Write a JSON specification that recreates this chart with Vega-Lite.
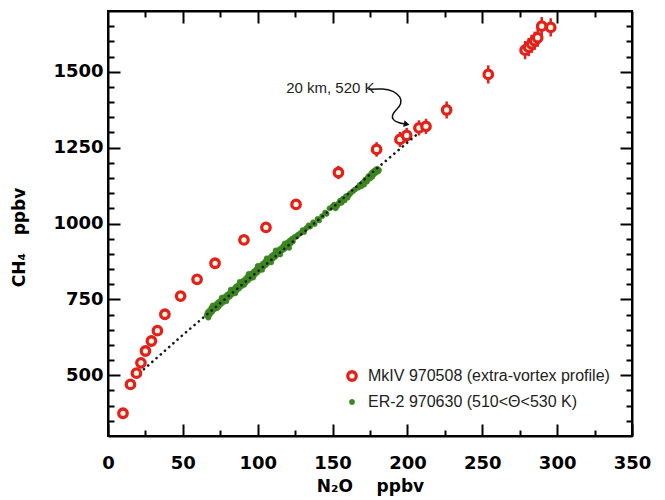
{
  "$schema": "https://vega.github.io/schema/vega-lite/v6.json",
  "width": 524,
  "height": 425,
  "autosize": "none",
  "padding": {"left": 108, "top": 11, "right": 33, "bottom": 64},
  "background": "white",
  "config": {
    "view": {"stroke": "black", "strokeWidth": 2},
    "axis": {"grid": false, "domain": true, "domainColor": "black", "domainWidth": 2, "tickColor": "black", "tickWidth": 2, "labelColor": "black", "titleColor": "black"},
    "legend": {
      "orient": "none",
      "legendX": 236,
      "legendY": 357,
      "labelFont": "Liberation Sans",
      "labelFontSize": 16,
      "labelColor": "#222",
      "labelLimit": 0,
      "labelOffset": 8,
      "rowPadding": 7,
      "padding": 0
    }
  },
  "datasets": {
    "obs": [
      {"instrument": "ER-2 970630 (510<Θ<530 K)", "n2o": 66, "ch4": 698},
      {"instrument": "ER-2 970630 (510<Θ<530 K)", "n2o": 66.5, "ch4": 706},
      {"instrument": "ER-2 970630 (510<Θ<530 K)", "n2o": 67, "ch4": 690},
      {"instrument": "ER-2 970630 (510<Θ<530 K)", "n2o": 67.5, "ch4": 712},
      {"instrument": "ER-2 970630 (510<Θ<530 K)", "n2o": 68, "ch4": 700},
      {"instrument": "ER-2 970630 (510<Θ<530 K)", "n2o": 69, "ch4": 722},
      {"instrument": "ER-2 970630 (510<Θ<530 K)", "n2o": 69.5, "ch4": 709},
      {"instrument": "ER-2 970630 (510<Θ<530 K)", "n2o": 70, "ch4": 730},
      {"instrument": "ER-2 970630 (510<Θ<530 K)", "n2o": 70.5, "ch4": 716},
      {"instrument": "ER-2 970630 (510<Θ<530 K)", "n2o": 71, "ch4": 728},
      {"instrument": "ER-2 970630 (510<Θ<530 K)", "n2o": 72, "ch4": 720},
      {"instrument": "ER-2 970630 (510<Θ<530 K)", "n2o": 72.5, "ch4": 734},
      {"instrument": "ER-2 970630 (510<Θ<530 K)", "n2o": 73, "ch4": 722},
      {"instrument": "ER-2 970630 (510<Θ<530 K)", "n2o": 73.5, "ch4": 740},
      {"instrument": "ER-2 970630 (510<Θ<530 K)", "n2o": 74, "ch4": 727},
      {"instrument": "ER-2 970630 (510<Θ<530 K)", "n2o": 75, "ch4": 745},
      {"instrument": "ER-2 970630 (510<Θ<530 K)", "n2o": 75.5, "ch4": 735},
      {"instrument": "ER-2 970630 (510<Θ<530 K)", "n2o": 76, "ch4": 756},
      {"instrument": "ER-2 970630 (510<Θ<530 K)", "n2o": 76.5, "ch4": 752},
      {"instrument": "ER-2 970630 (510<Θ<530 K)", "n2o": 77, "ch4": 741},
      {"instrument": "ER-2 970630 (510<Θ<530 K)", "n2o": 78, "ch4": 758},
      {"instrument": "ER-2 970630 (510<Θ<530 K)", "n2o": 78.5, "ch4": 747},
      {"instrument": "ER-2 970630 (510<Θ<530 K)", "n2o": 79, "ch4": 744},
      {"instrument": "ER-2 970630 (510<Θ<530 K)", "n2o": 79.5, "ch4": 765},
      {"instrument": "ER-2 970630 (510<Θ<530 K)", "n2o": 80, "ch4": 755},
      {"instrument": "ER-2 970630 (510<Θ<530 K)", "n2o": 81, "ch4": 770},
      {"instrument": "ER-2 970630 (510<Θ<530 K)", "n2o": 81.5, "ch4": 760},
      {"instrument": "ER-2 970630 (510<Θ<530 K)", "n2o": 82, "ch4": 782},
      {"instrument": "ER-2 970630 (510<Θ<530 K)", "n2o": 82.5, "ch4": 778},
      {"instrument": "ER-2 970630 (510<Θ<530 K)", "n2o": 83, "ch4": 768},
      {"instrument": "ER-2 970630 (510<Θ<530 K)", "n2o": 84, "ch4": 784},
      {"instrument": "ER-2 970630 (510<Θ<530 K)", "n2o": 84.5, "ch4": 774},
      {"instrument": "ER-2 970630 (510<Θ<530 K)", "n2o": 85, "ch4": 770},
      {"instrument": "ER-2 970630 (510<Θ<530 K)", "n2o": 85.5, "ch4": 792},
      {"instrument": "ER-2 970630 (510<Θ<530 K)", "n2o": 86, "ch4": 780},
      {"instrument": "ER-2 970630 (510<Θ<530 K)", "n2o": 87, "ch4": 797},
      {"instrument": "ER-2 970630 (510<Θ<530 K)", "n2o": 87.5, "ch4": 786},
      {"instrument": "ER-2 970630 (510<Θ<530 K)", "n2o": 88, "ch4": 808},
      {"instrument": "ER-2 970630 (510<Θ<530 K)", "n2o": 88.5, "ch4": 805},
      {"instrument": "ER-2 970630 (510<Θ<530 K)", "n2o": 89, "ch4": 793},
      {"instrument": "ER-2 970630 (510<Θ<530 K)", "n2o": 90, "ch4": 810},
      {"instrument": "ER-2 970630 (510<Θ<530 K)", "n2o": 90.5, "ch4": 799},
      {"instrument": "ER-2 970630 (510<Θ<530 K)", "n2o": 91, "ch4": 798},
      {"instrument": "ER-2 970630 (510<Θ<530 K)", "n2o": 91.5, "ch4": 816},
      {"instrument": "ER-2 970630 (510<Θ<530 K)", "n2o": 92, "ch4": 806},
      {"instrument": "ER-2 970630 (510<Θ<530 K)", "n2o": 93, "ch4": 824},
      {"instrument": "ER-2 970630 (510<Θ<530 K)", "n2o": 93.5, "ch4": 812},
      {"instrument": "ER-2 970630 (510<Θ<530 K)", "n2o": 94, "ch4": 834},
      {"instrument": "ER-2 970630 (510<Θ<530 K)", "n2o": 94.5, "ch4": 829},
      {"instrument": "ER-2 970630 (510<Θ<530 K)", "n2o": 95, "ch4": 819},
      {"instrument": "ER-2 970630 (510<Θ<530 K)", "n2o": 96, "ch4": 836},
      {"instrument": "ER-2 970630 (510<Θ<530 K)", "n2o": 96.5, "ch4": 825},
      {"instrument": "ER-2 970630 (510<Θ<530 K)", "n2o": 97, "ch4": 822},
      {"instrument": "ER-2 970630 (510<Θ<530 K)", "n2o": 97.5, "ch4": 842},
      {"instrument": "ER-2 970630 (510<Θ<530 K)", "n2o": 98, "ch4": 832},
      {"instrument": "ER-2 970630 (510<Θ<530 K)", "n2o": 99, "ch4": 849},
      {"instrument": "ER-2 970630 (510<Θ<530 K)", "n2o": 99.5, "ch4": 838},
      {"instrument": "ER-2 970630 (510<Θ<530 K)", "n2o": 100, "ch4": 860},
      {"instrument": "ER-2 970630 (510<Θ<530 K)", "n2o": 100.5, "ch4": 856},
      {"instrument": "ER-2 970630 (510<Θ<530 K)", "n2o": 101, "ch4": 845},
      {"instrument": "ER-2 970630 (510<Θ<530 K)", "n2o": 102, "ch4": 862},
      {"instrument": "ER-2 970630 (510<Θ<530 K)", "n2o": 102.5, "ch4": 851},
      {"instrument": "ER-2 970630 (510<Θ<530 K)", "n2o": 103, "ch4": 848},
      {"instrument": "ER-2 970630 (510<Θ<530 K)", "n2o": 103.5, "ch4": 868},
      {"instrument": "ER-2 970630 (510<Θ<530 K)", "n2o": 104, "ch4": 858},
      {"instrument": "ER-2 970630 (510<Θ<530 K)", "n2o": 105, "ch4": 874},
      {"instrument": "ER-2 970630 (510<Θ<530 K)", "n2o": 105.5, "ch4": 864},
      {"instrument": "ER-2 970630 (510<Θ<530 K)", "n2o": 106, "ch4": 885},
      {"instrument": "ER-2 970630 (510<Θ<530 K)", "n2o": 106.5, "ch4": 881},
      {"instrument": "ER-2 970630 (510<Θ<530 K)", "n2o": 107, "ch4": 871},
      {"instrument": "ER-2 970630 (510<Θ<530 K)", "n2o": 108, "ch4": 887},
      {"instrument": "ER-2 970630 (510<Θ<530 K)", "n2o": 108.5, "ch4": 877},
      {"instrument": "ER-2 970630 (510<Θ<530 K)", "n2o": 109, "ch4": 872},
      {"instrument": "ER-2 970630 (510<Θ<530 K)", "n2o": 109.5, "ch4": 894},
      {"instrument": "ER-2 970630 (510<Θ<530 K)", "n2o": 110, "ch4": 884},
      {"instrument": "ER-2 970630 (510<Θ<530 K)", "n2o": 111, "ch4": 899},
      {"instrument": "ER-2 970630 (510<Θ<530 K)", "n2o": 111.5, "ch4": 890},
      {"instrument": "ER-2 970630 (510<Θ<530 K)", "n2o": 112, "ch4": 911},
      {"instrument": "ER-2 970630 (510<Θ<530 K)", "n2o": 112.5, "ch4": 906},
      {"instrument": "ER-2 970630 (510<Θ<530 K)", "n2o": 113, "ch4": 897},
      {"instrument": "ER-2 970630 (510<Θ<530 K)", "n2o": 114, "ch4": 913},
      {"instrument": "ER-2 970630 (510<Θ<530 K)", "n2o": 114.5, "ch4": 903},
      {"instrument": "ER-2 970630 (510<Θ<530 K)", "n2o": 115, "ch4": 898},
      {"instrument": "ER-2 970630 (510<Θ<530 K)", "n2o": 115.5, "ch4": 918},
      {"instrument": "ER-2 970630 (510<Θ<530 K)", "n2o": 116, "ch4": 910},
      {"instrument": "ER-2 970630 (510<Θ<530 K)", "n2o": 117, "ch4": 925},
      {"instrument": "ER-2 970630 (510<Θ<530 K)", "n2o": 117.5, "ch4": 915},
      {"instrument": "ER-2 970630 (510<Θ<530 K)", "n2o": 118, "ch4": 934},
      {"instrument": "ER-2 970630 (510<Θ<530 K)", "n2o": 118.5, "ch4": 931},
      {"instrument": "ER-2 970630 (510<Θ<530 K)", "n2o": 119, "ch4": 921},
      {"instrument": "ER-2 970630 (510<Θ<530 K)", "n2o": 120, "ch4": 938},
      {"instrument": "ER-2 970630 (510<Θ<530 K)", "n2o": 120.5, "ch4": 928},
      {"instrument": "ER-2 970630 (510<Θ<530 K)", "n2o": 121, "ch4": 920},
      {"instrument": "ER-2 970630 (510<Θ<530 K)", "n2o": 121.5, "ch4": 944},
      {"instrument": "ER-2 970630 (510<Θ<530 K)", "n2o": 122, "ch4": 935},
      {"instrument": "ER-2 970630 (510<Θ<530 K)", "n2o": 123, "ch4": 950},
      {"instrument": "ER-2 970630 (510<Θ<530 K)", "n2o": 123.5, "ch4": 941},
      {"instrument": "ER-2 970630 (510<Θ<530 K)", "n2o": 124.5, "ch4": 955},
      {"instrument": "ER-2 970630 (510<Θ<530 K)", "n2o": 126, "ch4": 958},
      {"instrument": "ER-2 970630 (510<Θ<530 K)", "n2o": 127, "ch4": 963},
      {"instrument": "ER-2 970630 (510<Θ<530 K)", "n2o": 128.5, "ch4": 968},
      {"instrument": "ER-2 970630 (510<Θ<530 K)", "n2o": 130, "ch4": 978},
      {"instrument": "ER-2 970630 (510<Θ<530 K)", "n2o": 131, "ch4": 972},
      {"instrument": "ER-2 970630 (510<Θ<530 K)", "n2o": 132.5, "ch4": 985},
      {"instrument": "ER-2 970630 (510<Θ<530 K)", "n2o": 134, "ch4": 994},
      {"instrument": "ER-2 970630 (510<Θ<530 K)", "n2o": 135, "ch4": 990},
      {"instrument": "ER-2 970630 (510<Θ<530 K)", "n2o": 137, "ch4": 1004},
      {"instrument": "ER-2 970630 (510<Θ<530 K)", "n2o": 138, "ch4": 998},
      {"instrument": "ER-2 970630 (510<Θ<530 K)", "n2o": 140, "ch4": 1015},
      {"instrument": "ER-2 970630 (510<Θ<530 K)", "n2o": 141, "ch4": 1010},
      {"instrument": "ER-2 970630 (510<Θ<530 K)", "n2o": 143, "ch4": 1024},
      {"instrument": "ER-2 970630 (510<Θ<530 K)", "n2o": 145, "ch4": 1036},
      {"instrument": "ER-2 970630 (510<Θ<530 K)", "n2o": 146, "ch4": 1032},
      {"instrument": "ER-2 970630 (510<Θ<530 K)", "n2o": 148, "ch4": 1050},
      {"instrument": "ER-2 970630 (510<Θ<530 K)", "n2o": 150, "ch4": 1056},
      {"instrument": "ER-2 970630 (510<Θ<530 K)", "n2o": 151, "ch4": 1062},
      {"instrument": "ER-2 970630 (510<Θ<530 K)", "n2o": 152, "ch4": 1050},
      {"instrument": "ER-2 970630 (510<Θ<530 K)", "n2o": 153, "ch4": 1058},
      {"instrument": "ER-2 970630 (510<Θ<530 K)", "n2o": 154, "ch4": 1066},
      {"instrument": "ER-2 970630 (510<Θ<530 K)", "n2o": 155, "ch4": 1075},
      {"instrument": "ER-2 970630 (510<Θ<530 K)", "n2o": 156, "ch4": 1068},
      {"instrument": "ER-2 970630 (510<Θ<530 K)", "n2o": 157, "ch4": 1082},
      {"instrument": "ER-2 970630 (510<Θ<530 K)", "n2o": 158, "ch4": 1076},
      {"instrument": "ER-2 970630 (510<Θ<530 K)", "n2o": 159, "ch4": 1090},
      {"instrument": "ER-2 970630 (510<Θ<530 K)", "n2o": 160, "ch4": 1085},
      {"instrument": "ER-2 970630 (510<Θ<530 K)", "n2o": 161, "ch4": 1094},
      {"instrument": "ER-2 970630 (510<Θ<530 K)", "n2o": 162, "ch4": 1100},
      {"instrument": "ER-2 970630 (510<Θ<530 K)", "n2o": 163.5, "ch4": 1106},
      {"instrument": "ER-2 970630 (510<Θ<530 K)", "n2o": 165, "ch4": 1112},
      {"instrument": "ER-2 970630 (510<Θ<530 K)", "n2o": 167, "ch4": 1118},
      {"instrument": "ER-2 970630 (510<Θ<530 K)", "n2o": 168, "ch4": 1126},
      {"instrument": "ER-2 970630 (510<Θ<530 K)", "n2o": 169, "ch4": 1122},
      {"instrument": "ER-2 970630 (510<Θ<530 K)", "n2o": 170, "ch4": 1134},
      {"instrument": "ER-2 970630 (510<Θ<530 K)", "n2o": 171, "ch4": 1128},
      {"instrument": "ER-2 970630 (510<Θ<530 K)", "n2o": 171.5, "ch4": 1140},
      {"instrument": "ER-2 970630 (510<Θ<530 K)", "n2o": 172, "ch4": 1145},
      {"instrument": "ER-2 970630 (510<Θ<530 K)", "n2o": 173, "ch4": 1138},
      {"instrument": "ER-2 970630 (510<Θ<530 K)", "n2o": 173.5, "ch4": 1150},
      {"instrument": "ER-2 970630 (510<Θ<530 K)", "n2o": 174, "ch4": 1156},
      {"instrument": "ER-2 970630 (510<Θ<530 K)", "n2o": 175, "ch4": 1148},
      {"instrument": "ER-2 970630 (510<Θ<530 K)", "n2o": 175.5, "ch4": 1160},
      {"instrument": "ER-2 970630 (510<Θ<530 K)", "n2o": 176, "ch4": 1166},
      {"instrument": "ER-2 970630 (510<Θ<530 K)", "n2o": 176.5, "ch4": 1154},
      {"instrument": "ER-2 970630 (510<Θ<530 K)", "n2o": 177, "ch4": 1170},
      {"instrument": "ER-2 970630 (510<Θ<530 K)", "n2o": 177.5, "ch4": 1162},
      {"instrument": "ER-2 970630 (510<Θ<530 K)", "n2o": 178, "ch4": 1174},
      {"instrument": "ER-2 970630 (510<Θ<530 K)", "n2o": 178.5, "ch4": 1166},
      {"instrument": "ER-2 970630 (510<Θ<530 K)", "n2o": 179, "ch4": 1178},
      {"instrument": "ER-2 970630 (510<Θ<530 K)", "n2o": 179.5, "ch4": 1170},
      {"instrument": "ER-2 970630 (510<Θ<530 K)", "n2o": 180, "ch4": 1180},
      {"instrument": "ER-2 970630 (510<Θ<530 K)", "n2o": 180.5, "ch4": 1172},
      {"instrument": "ER-2 970630 (510<Θ<530 K)", "n2o": 181, "ch4": 1176},
      {"instrument": "MkIV 970508 (extra-vortex profile)", "n2o": 10, "ch4": 375, "err": 10},
      {"instrument": "MkIV 970508 (extra-vortex profile)", "n2o": 15, "ch4": 470, "err": 10},
      {"instrument": "MkIV 970508 (extra-vortex profile)", "n2o": 19, "ch4": 507, "err": 10},
      {"instrument": "MkIV 970508 (extra-vortex profile)", "n2o": 22, "ch4": 541, "err": 10},
      {"instrument": "MkIV 970508 (extra-vortex profile)", "n2o": 25, "ch4": 580, "err": 10},
      {"instrument": "MkIV 970508 (extra-vortex profile)", "n2o": 29, "ch4": 613, "err": 10},
      {"instrument": "MkIV 970508 (extra-vortex profile)", "n2o": 33, "ch4": 647, "err": 10},
      {"instrument": "MkIV 970508 (extra-vortex profile)", "n2o": 38, "ch4": 701, "err": 10},
      {"instrument": "MkIV 970508 (extra-vortex profile)", "n2o": 48.5, "ch4": 761, "err": 10},
      {"instrument": "MkIV 970508 (extra-vortex profile)", "n2o": 59.5, "ch4": 816, "err": 10},
      {"instrument": "MkIV 970508 (extra-vortex profile)", "n2o": 71.5, "ch4": 869, "err": 12},
      {"instrument": "MkIV 970508 (extra-vortex profile)", "n2o": 90.8, "ch4": 946, "err": 14},
      {"instrument": "MkIV 970508 (extra-vortex profile)", "n2o": 105.5, "ch4": 987, "err": 15},
      {"instrument": "MkIV 970508 (extra-vortex profile)", "n2o": 125.6, "ch4": 1063, "err": 18},
      {"instrument": "MkIV 970508 (extra-vortex profile)", "n2o": 153.9, "ch4": 1168, "err": 22},
      {"instrument": "MkIV 970508 (extra-vortex profile)", "n2o": 179.4, "ch4": 1244, "err": 24},
      {"instrument": "MkIV 970508 (extra-vortex profile)", "n2o": 195, "ch4": 1277, "err": 25},
      {"instrument": "MkIV 970508 (extra-vortex profile)", "n2o": 199.5, "ch4": 1290, "err": 25},
      {"instrument": "MkIV 970508 (extra-vortex profile)", "n2o": 207.7, "ch4": 1315, "err": 25},
      {"instrument": "MkIV 970508 (extra-vortex profile)", "n2o": 212.4, "ch4": 1320, "err": 25},
      {"instrument": "MkIV 970508 (extra-vortex profile)", "n2o": 226.2, "ch4": 1374, "err": 28},
      {"instrument": "MkIV 970508 (extra-vortex profile)", "n2o": 254, "ch4": 1491, "err": 30},
      {"instrument": "MkIV 970508 (extra-vortex profile)", "n2o": 278.6, "ch4": 1571, "err": 30},
      {"instrument": "MkIV 970508 (extra-vortex profile)", "n2o": 281, "ch4": 1581, "err": 30},
      {"instrument": "MkIV 970508 (extra-vortex profile)", "n2o": 283, "ch4": 1592, "err": 30},
      {"instrument": "MkIV 970508 (extra-vortex profile)", "n2o": 285, "ch4": 1602, "err": 30},
      {"instrument": "MkIV 970508 (extra-vortex profile)", "n2o": 287, "ch4": 1612, "err": 30},
      {"instrument": "MkIV 970508 (extra-vortex profile)", "n2o": 289.7, "ch4": 1650, "err": 30},
      {"instrument": "MkIV 970508 (extra-vortex profile)", "n2o": 295.7, "ch4": 1646, "err": 30}
    ],
    "fit": [
      {"n2o": 24, "ch4": 520},
      {"n2o": 50, "ch4": 633},
      {"n2o": 115, "ch4": 905},
      {"n2o": 150, "ch4": 1052},
      {"n2o": 180, "ch4": 1183},
      {"n2o": 206, "ch4": 1292}
    ],
    "arrow": [
      {"i": 0, "n2o": 173.9, "ch4": 1442},
      {"i": 1, "n2o": 183.9, "ch4": 1445},
      {"i": 2, "n2o": 190.6, "ch4": 1437},
      {"i": 3, "n2o": 195.5, "ch4": 1418},
      {"i": 4, "n2o": 196.2, "ch4": 1394},
      {"i": 5, "n2o": 192.4, "ch4": 1374},
      {"i": 6, "n2o": 189.5, "ch4": 1357},
      {"i": 7, "n2o": 190.2, "ch4": 1341},
      {"i": 8, "n2o": 193.9, "ch4": 1332},
      {"i": 9, "n2o": 198.5, "ch4": 1328}
    ],
    "tip": [{"n2o": 199.5, "ch4": 1327}],
    "note": [{"n2o": 119, "ch4": 1446, "label": "20 km, 520 K"}]
  },
  "layer": [
    {
      "data": {"name": "obs"},
      "transform": [{"filter": "datum.err > 0"}],
      "mark": {"type": "errorbar", "color": "#e3201b", "thickness": 2.5},
      "encoding": {
        "x": {"field": "n2o", "type": "quantitative", "axis": null},
        "y": {"field": "ch4", "type": "quantitative", "axis": null},
        "yError": {"field": "err"}
      }
    },
    {
      "data": {"name": "obs"},
      "mark": {"type": "point", "filled": true, "opacity": 1},
      "encoding": {
        "x": {
          "field": "n2o", "type": "quantitative",
          "scale": {"domain": [0, 350], "nice": false, "zero": false},
          "axis": {
            "orient": "bottom",
            "values": [0, 25, 50, 75, 100, 125, 150, 175, 200, 225, 250, 275, 300, 325, 350],
            "format": "d",
            "labelExpr": "datum.value % 50 === 0 ? datum.label : ''",
            "labelOverlap": false,
            "tickSize": -12,
            "tickDash": {"condition": {"test": "datum.value % 50 !== 0", "value": [6, 30]}, "value": [20, 0]},
            "labelPadding": 30,
            "labelFont": "DejaVu Sans", "labelFontWeight": "bold", "labelFontSize": 18,
            "labelFlush": false,
            "title": "N₂O\u00a0\u00a0\u00a0\u00a0ppbv",
            "titleFont": "DejaVu Sans", "titleFontWeight": "bold", "titleFontSize": 17,
            "titlePadding": 6
          }
        },
        "y": {
          "field": "ch4", "type": "quantitative",
          "scale": {"domain": [300, 1700], "nice": false, "zero": false},
          "axis": {
            "orient": "left",
            "values": [350, 400, 450, 500, 550, 600, 650, 700, 750, 800, 850, 900, 950, 1000, 1050, 1100, 1150, 1200, 1250, 1300, 1350, 1400, 1450, 1500, 1550, 1600, 1650],
            "format": "d",
            "labelExpr": "datum.value % 250 === 0 ? datum.label : ''",
            "labelOverlap": false,
            "tickSize": -12,
            "tickDash": {"condition": {"test": "datum.value % 250 !== 0", "value": [6, 30]}, "value": [20, 0]},
            "labelPadding": 17,
            "labelFont": "DejaVu Sans", "labelFontWeight": "bold", "labelFontSize": 18,
            "title": "CH₄\u00a0\u00a0\u00a0ppbv",
            "titleFont": "DejaVu Sans", "titleFontWeight": "bold", "titleFontSize": 17,
            "titlePadding": 24,
            "titleY": 226
          }
        },
        "fill": {
          "field": "instrument", "type": "nominal",
          "scale": {"domain": ["MkIV 970508 (extra-vortex profile)", "ER-2 970630 (510<Θ<530 K)"], "range": ["#fff7df", "#3c8621"]},
          "legend": {"title": null}
        },
        "stroke": {
          "field": "instrument", "type": "nominal",
          "scale": {"domain": ["MkIV 970508 (extra-vortex profile)", "ER-2 970630 (510<Θ<530 K)"], "range": ["#e3201b", "#3c8621"]},
          "legend": {"title": null}
        },
        "size": {
          "field": "instrument", "type": "nominal",
          "scale": {"type": "ordinal", "domain": ["MkIV 970508 (extra-vortex profile)", "ER-2 970630 (510<Θ<530 K)"], "range": [72, 28]},
          "legend": {"title": null}
        },
        "strokeWidth": {
          "field": "instrument", "type": "nominal",
          "scale": {"type": "ordinal", "domain": ["MkIV 970508 (extra-vortex profile)", "ER-2 970630 (510<Θ<530 K)"], "range": [3.3, 0.5]},
          "legend": {"title": null}
        }
      }
    },
    {
      "data": {"name": "fit"},
      "mark": {"type": "line", "color": "#1a1a1a", "strokeWidth": 2.6, "strokeDash": [0.1, 5.5], "strokeCap": "round"},
      "encoding": {
        "x": {
          "field": "n2o", "type": "quantitative",
          "axis": {
            "orient": "top",
            "values": [25, 50, 75, 100, 125, 150, 175, 200, 225, 250, 275, 300, 325],
            "tickSize": -12,
            "tickDash": {"condition": {"test": "datum.value % 50 !== 0", "value": [6, 30]}, "value": [20, 0]},
            "labels": false, "title": null
          }
        },
        "y": {
          "field": "ch4", "type": "quantitative",
          "axis": {
            "orient": "right",
            "values": [350, 400, 450, 500, 550, 600, 650, 700, 750, 800, 850, 900, 950, 1000, 1050, 1100, 1150, 1200, 1250, 1300, 1350, 1400, 1450, 1500, 1550, 1600, 1650],
            "tickSize": -12,
            "tickDash": {"condition": {"test": "datum.value % 250 !== 0", "value": [6, 30]}, "value": [20, 0]},
            "labels": false, "title": null
          }
        }
      }
    },
    {
      "data": {"name": "arrow"},
      "mark": {"type": "line", "color": "#111", "strokeWidth": 1.5, "interpolate": "basis"},
      "encoding": {
        "x": {"field": "n2o", "type": "quantitative", "axis": null},
        "y": {"field": "ch4", "type": "quantitative", "axis": null},
        "order": {"field": "i"}
      }
    },
    {
      "data": {"name": "tip"},
      "mark": {"type": "point", "shape": "triangle-right", "filled": true, "color": "#111", "size": 45, "angle": 12, "opacity": 1},
      "encoding": {
        "x": {"field": "n2o", "type": "quantitative", "axis": null},
        "y": {"field": "ch4", "type": "quantitative", "axis": null}
      }
    },
    {
      "data": {"name": "note"},
      "mark": {"type": "text", "align": "left", "baseline": "middle", "font": "Liberation Sans", "fontSize": 15, "color": "#222"},
      "encoding": {
        "x": {"field": "n2o", "type": "quantitative", "axis": null},
        "y": {"field": "ch4", "type": "quantitative", "axis": null},
        "text": {"field": "label"}
      }
    }
  ],
  "resolve": {"axis": {"x": "independent", "y": "independent"}}
}
